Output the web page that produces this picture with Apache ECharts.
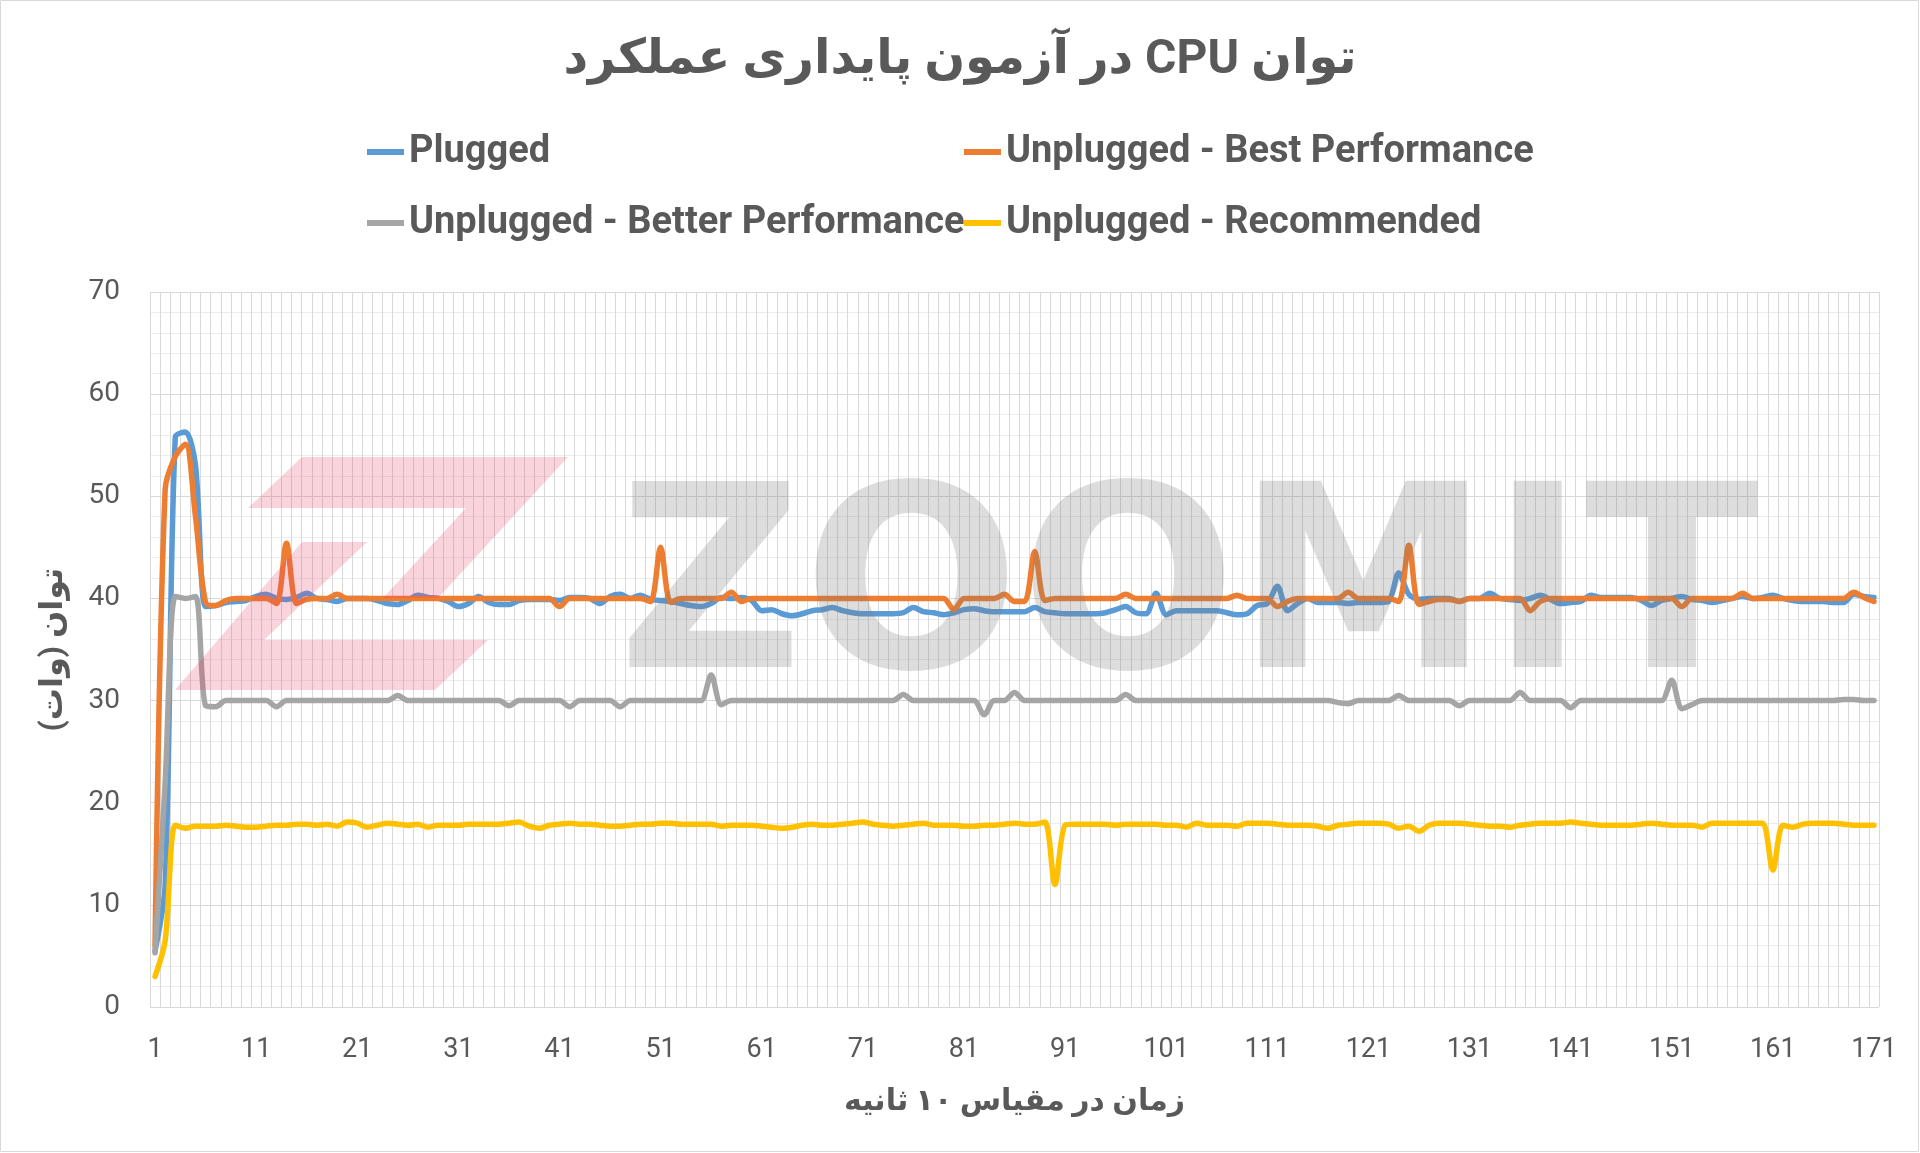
<!DOCTYPE html>
<html>
<head>
<meta charset="utf-8">
<script src="https://cdn.jsdelivr.net/npm/echarts@6/dist/echarts.min.js"></script>
<style>
html,body{margin:0;padding:0;background:#fff;}
#chart{width:1920px;height:1153px;}
</style>
</head>
<body>
<div id="chart"></div>
<script>
const titleText = '\u202Bتوان CPU در آزمون پایداری عملکرد\u202C';
const xAxisName = '\u202Bزمان در مقیاس ۱۰ ثانیه\u202C';
const yAxisName = '\u202Bتوان (وات)\u202C';
const seriesNames = ['Plugged', 'Unplugged - Best Performance', 'Unplugged - Better Performance', 'Unplugged - Recommended'];
const seriesColors = ['#5B9BD5', '#ED7D31', '#A5A5A5', '#FFC000'];
const categories = Array.from({length: 171}, (_, i) => String(i + 1));
const yTicks = {min: 0, max: 70, interval: 10};

const plugged = [
5.5,12,55.8,56.3,53.0,39.2,39.3,39.6,39.7,39.8,
40.2,40.4,40.0,39.9,40.1,40.5,40.0,39.9,39.7,40.0,
40.0,40.0,39.8,39.5,39.4,39.8,40.3,40.1,40.0,39.7,
39.2,39.5,40.2,39.6,39.4,39.4,39.8,39.9,39.9,39.9,
39.8,40.1,40.1,40.0,39.5,40.2,40.4,40.0,40.3,39.9,
39.8,39.7,39.5,39.3,39.2,39.5,40.1,40.0,40.1,39.8,
38.8,38.9,38.5,38.3,38.5,38.8,38.9,39.1,38.8,38.6,
38.5,38.5,38.5,38.5,38.6,39.1,38.7,38.6,38.4,38.6,
38.9,39.0,38.8,38.7,38.7,38.7,38.7,39.1,38.7,38.6,
38.5,38.5,38.5,38.5,38.6,38.9,39.2,38.6,38.5,40.5,
38.4,38.8,38.8,38.8,38.8,38.8,38.6,38.4,38.5,39.3,
39.5,41.2,38.8,39.5,40.0,39.6,39.6,39.6,39.5,39.6,
39.6,39.6,39.7,42.5,40.4,39.9,40.0,40.0,40.0,39.7,
40.0,40.0,40.5,40.0,39.9,39.8,40.0,40.3,39.9,39.5,
39.6,39.7,40.3,40.1,40.1,40.1,40.1,39.8,39.3,39.8,
40.0,40.2,39.9,39.8,39.6,39.8,40.0,40.2,40.0,40.1,
40.3,40.0,39.8,39.7,39.7,39.7,39.6,39.6,40.4,40.2,
40.1];

const bestPerf = [
6.0,50.7,53.9,55.1,48.0,39.6,39.3,39.8,40.0,40.0,
40.0,40.0,39.5,45.4,39.5,39.9,40.0,40.0,40.4,40.0,
40.0,40.0,40.0,40.0,40.0,40.0,40.0,40.0,40.0,40.0,
40.0,40.0,40.0,40.0,40.0,40.0,40.0,40.0,40.0,40.0,
39.2,40.0,40.0,40.0,40.0,40.0,40.0,40.0,40.0,39.7,
45.0,39.6,40.0,40.0,40.0,40.0,40.0,40.6,39.7,40.0,
40.0,40.0,40.0,40.0,40.0,40.0,40.0,40.0,40.0,40.0,
40.0,40.0,40.0,40.0,40.0,40.0,40.0,40.0,40.0,38.9,
40.0,40.0,40.0,40.0,40.4,39.7,39.7,44.6,39.8,40.0,
40.0,40.0,40.0,40.0,40.0,40.0,40.4,40.0,40.0,40.0,
40.0,40.0,40.0,40.0,40.0,40.0,40.0,40.3,40.0,40.0,
40.0,39.2,39.7,40.0,40.0,40.0,40.0,40.0,40.6,40.0,
40.0,40.0,40.0,39.7,45.2,39.4,39.7,39.9,39.9,39.7,
40.0,40.0,40.0,40.0,40.0,40.0,38.8,39.7,40.0,40.0,
40.0,40.0,40.0,40.0,40.0,40.0,40.0,40.0,40.0,40.0,
40.0,39.2,40.0,40.0,40.0,40.0,40.0,40.5,40.0,40.0,
40.0,40.0,40.0,40.0,40.0,40.0,40.0,40.0,40.6,40.1,
39.7];

const betterPerf = [
5.3,22.0,40.2,40.0,40.2,29.5,29.4,30.0,30.0,30.0,
30.0,30.0,29.4,30.0,30.0,30.0,30.0,30.0,30.0,30.0,
30.0,30.0,30.0,30.0,30.5,30.0,30.0,30.0,30.0,30.0,
30.0,30.0,30.0,30.0,30.0,29.5,30.0,30.0,30.0,30.0,
30.0,29.4,30.0,30.0,30.0,30.0,29.4,30.0,30.0,30.0,
30.0,30.0,30.0,30.0,30.0,32.5,29.6,30.0,30.0,30.0,
30.0,30.0,30.0,30.0,30.0,30.0,30.0,30.0,30.0,30.0,
30.0,30.0,30.0,30.0,30.6,30.0,30.0,30.0,30.0,30.0,
30.0,30.0,28.6,30.0,30.0,30.8,30.0,30.0,30.0,30.0,
30.0,30.0,30.0,30.0,30.0,30.0,30.6,30.0,30.0,30.0,
30.0,30.0,30.0,30.0,30.0,30.0,30.0,30.0,30.0,30.0,
30.0,30.0,30.0,30.0,30.0,30.0,30.0,29.8,29.7,30.0,
30.0,30.0,30.0,30.5,30.0,30.0,30.0,30.0,30.0,29.5,
30.0,30.0,30.0,30.0,30.0,30.8,30.0,30.0,30.0,30.0,
29.3,30.0,30.0,30.0,30.0,30.0,30.0,30.0,30.0,30.0,
32.0,29.2,29.6,30.0,30.0,30.0,30.0,30.0,30.0,30.0,
30.0,30.0,30.0,30.0,30.0,30.0,30.0,30.1,30.1,30.0,
30.0];

const recommended = [
3.0,6.5,17.8,17.5,17.7,17.7,17.7,17.8,17.7,17.6,
17.6,17.7,17.8,17.8,17.9,17.9,17.8,17.9,17.7,18.1,
18.0,17.6,17.8,18.0,17.9,17.8,17.9,17.6,17.8,17.8,
17.8,17.9,17.9,17.9,17.9,18.0,18.1,17.7,17.5,17.8,
17.9,18.0,17.9,17.9,17.8,17.7,17.7,17.8,17.9,17.9,
18.0,18.0,17.9,17.9,17.9,17.9,17.7,17.8,17.8,17.8,
17.7,17.6,17.5,17.6,17.8,17.9,17.8,17.8,17.9,18.0,
18.1,17.9,17.8,17.7,17.8,17.9,18.0,17.8,17.8,17.8,
17.7,17.7,17.8,17.8,17.9,18.0,17.9,17.9,18.1,12.0,
17.8,17.9,17.9,17.9,17.9,17.8,17.9,17.9,17.9,17.9,
17.8,17.8,17.6,18.0,17.8,17.8,17.8,17.7,18.0,18.0,
18.0,17.9,17.8,17.8,17.8,17.7,17.5,17.8,17.9,18.0,
18.0,18.0,17.9,17.5,17.7,17.2,17.8,18.0,18.0,18.0,
17.9,17.8,17.7,17.7,17.6,17.8,17.9,18.0,18.0,18.0,
18.1,18.0,17.9,17.8,17.8,17.8,17.8,17.9,18.0,17.9,
17.8,17.8,17.8,17.6,18.0,18.0,18.0,18.0,18.0,18.0,
13.4,17.8,17.6,17.9,18.0,18.0,18.0,17.9,17.8,17.8,
17.8];

const seriesData = [plugged, bestPerf, betterPerf, recommended];

const FONT = 'Roboto, "DejaVu Sans", sans-serif';
const TEXT_COLOR = '#595959';

const chart = echarts.init(document.getElementById('chart'), null, {renderer: 'canvas'});

const legendCommon = {
  icon: 'rect', itemWidth: 37, itemHeight: 6, itemGap: 0, padding: 0, selectedMode: false,
  textStyle: {fontSize: 38, fontWeight: 'bold', color: TEXT_COLOR, fontFamily: FONT}
};
const legendPos = [[367, 133], [964, 133], [367, 204], [964, 204]];

const option = {
  animation: false,
  backgroundColor: '#ffffff',
  title: {
    text: titleText, left: 'center', top: 32,
    textStyle: {fontSize: 48, fontWeight: 'bold', color: TEXT_COLOR, fontFamily: FONT}
  },
  legend: seriesNames.map((n, i) => Object.assign({}, legendCommon, {data: [n], left: legendPos[i][0], top: legendPos[i][1]})),
  grid: {left: 150, top: 292, width: 1729, height: 715, containLabel: false},
  xAxis: {
    type: 'category', data: categories, boundaryGap: true,
    axisLine: {show: false}, axisTick: {show: false},
    axisLabel: {interval: 9, fontSize: 27, color: TEXT_COLOR, margin: 30, fontFamily: FONT},
    splitLine: {show: true, interval: 0, lineStyle: {color: '#d9d9d9', width: 1}},
    name: xAxisName, nameLocation: 'middle', nameGap: 80,
    nameTextStyle: {fontSize: 30, fontWeight: 'bold', color: TEXT_COLOR, fontFamily: FONT}
  },
  yAxis: {
    type: 'value', min: yTicks.min, max: yTicks.max, interval: yTicks.interval,
    axisLine: {show: false}, axisTick: {show: false},
    axisLabel: {fontSize: 28, color: TEXT_COLOR, margin: 30, fontFamily: FONT},
    splitLine: {show: true, lineStyle: {color: '#d9d9d9', width: 1}},
    minorTick: {show: false, splitNumber: 5},
    minorSplitLine: {show: true, lineStyle: {color: '#ededed', width: 1}},
    name: yAxisName, nameLocation: 'middle', nameGap: 80,
    nameTextStyle: {fontSize: 32, fontWeight: 'bold', color: TEXT_COLOR, fontFamily: FONT}
  },
  series: seriesNames.map((n, i) => ({
    name: n, type: 'line', data: seriesData[i], smooth: 0.3,
    showSymbol: false, symbol: 'none',
    lineStyle: {width: 5.5, color: seriesColors[i], cap: 'round', join: 'round'},
    itemStyle: {color: seriesColors[i]},
    z: 2 + i
  })),
  graphic: [
    {type: 'rect', z: 0, silent: true, shape: {x: 0.5, y: 0.5, width: 1918, height: 1151},
     style: {fill: 'none', stroke: '#d9d9d9', lineWidth: 1}},
    {type: 'polygon', z: 20, silent: true,
     shape: {points: [[302,457],[568,457],[438,598],[383,598],[466,508],[248,508]]},
     style: {fill: 'rgba(232,60,100,0.22)'}},
    {type: 'polygon', z: 20, silent: true,
     shape: {points: [[302,542],[367,542],[264,640],[488,640],[435,690],[175,690]]},
     style: {fill: 'rgba(232,60,100,0.22)'}},
    {type: 'text', z: 20, silent: true, x: 618, y: 601,
     style: {text: 'ZOOMIT', fontSize: 255, fontWeight: 'bold', fontFamily: '"DejaVu Sans"',
             fill: 'rgba(120,120,120,0.25)', align: 'left', verticalAlign: 'middle'}}
  ]
};
chart.setOption(option);
</script>
</body>
</html>
